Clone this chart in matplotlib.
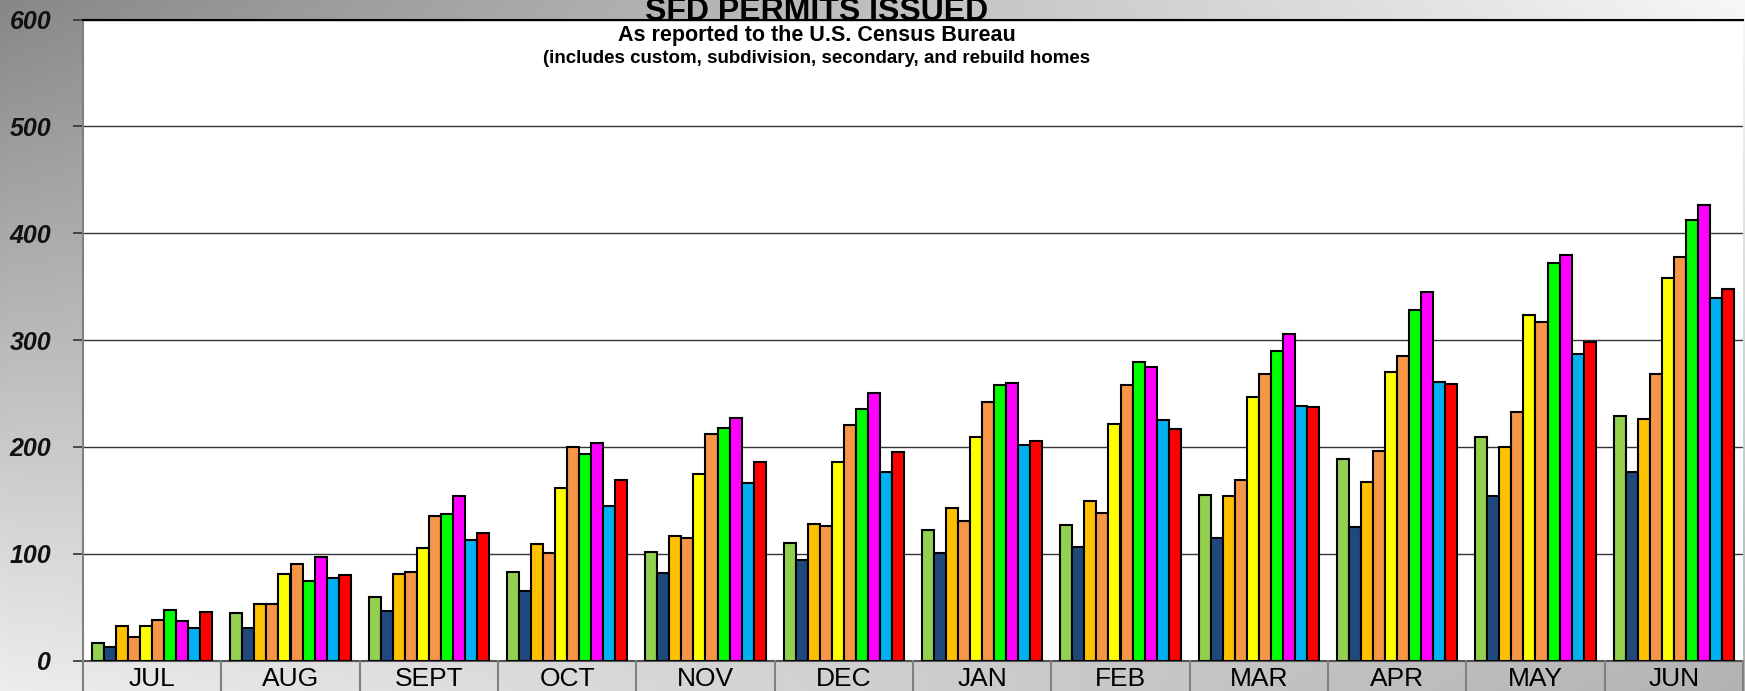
import numpy as np
import matplotlib
matplotlib.use('Agg')
from matplotlib import pyplot as plt
from matplotlib import transforms
from matplotlib.lines import Line2D

months = ['JUL', 'AUG', 'SEPT', 'OCT', 'NOV', 'DEC',
          'JAN', 'FEB', 'MAR', 'APR', 'MAY', 'JUN']

# one list per bar position inside each month group
s1 = [16, 44, 59, 83, 102, 110, 122, 127, 155, 189, 209, 229]
s2 = [13, 30, 46, 65, 82, 94, 101, 106, 115, 125, 154, 176]
s3 = [32, 53, 81, 109, 117, 128, 143, 149, 154, 167, 200, 226]
s4 = [22, 53, 83, 101, 115, 126, 131, 138, 169, 196, 233, 268]
s5 = [32, 81, 105, 161, 175, 186, 209, 221, 247, 270, 323, 358]
s6 = [38, 90, 135, 200, 212, 220, 242, 258, 268, 285, 317, 378]
s7 = [47, 74, 137, 193, 218, 235, 258, 279, 290, 328, 372, 412]
s8 = [37, 97, 154, 204, 227, 250, 260, 275, 306, 345, 380, 426]
s9 = [30, 77, 113, 145, 166, 176, 202, 225, 238, 261, 287, 339]
s10 = [45, 80, 119, 169, 186, 195, 205, 217, 237, 259, 298, 348]
series = [s1, s2, s3, s4, s5, s6, s7, s8, s9, s10]

colors = ['#92D050', '#1F497D', '#FFC000', '#F79646', '#FFFF00',
          '#F79646', '#00FF00', '#FF00FF', '#00B0F0', '#FF0000']

plt.rcParams['font.family'] = ['Liberation Sans', 'DejaVu Sans']

W, H = 1745, 691
fig = plt.figure(figsize=(W / 100, H / 100), dpi=100)

# gray gradient background (dark top-left, light top-right / bottom-left)
bg = fig.add_axes([0, 0, 1, 1], zorder=-5)
xx, yy = np.meshgrid(np.linspace(0, 1, 300), np.linspace(0, 1, 120))
tl, tr, bl, br = 0.53, 0.97, 0.93, 0.70
g = tl * (1 - xx) * (1 - yy) + tr * xx * (1 - yy) + bl * (1 - xx) * yy + br * xx * yy
bg.imshow(np.dstack([g, g, g]), aspect='auto', extent=[0, 1, 1, 0], interpolation='bilinear')
bg.set_xlim(0, 1)
bg.set_ylim(1, 0)
bg.axis('off')

left, right = 83 / W, 1743 / W
base, top = 660.5, 19.5
ax = fig.add_axes([left, 1 - base / H, right - left, (base - top) / H])
ax.set_facecolor('white')

x = np.arange(len(months))
bw = 0.087
for i, (vals, c) in enumerate(zip(series, colors)):
    ax.bar(x + (i - 4.5) * bw, vals, width=bw, color=c,
           edgecolor='black', linewidth=1.5, zorder=3)

ax.set_xlim(-0.5, 11.5)
ax.set_ylim(0, 600)
ax.set_yticks(range(0, 601, 100))
ax.set_yticklabels([str(v) for v in range(0, 601, 100)],
                   fontsize=18, fontweight='bold', fontstyle='italic', color='#111111')
ax.tick_params(axis='y', direction='out', length=7, width=1.2, color='#333333', pad=16)
ax.yaxis.grid(True, color='#333333', linewidth=1.0, zorder=0)
ax.set_axisbelow(True)

ax.set_xticks(x)
ax.set_xticklabels(months, fontsize=19)
ax.tick_params(axis='x', length=0, pad=5)

ax.spines['right'].set_visible(False)
ax.spines['top'].set_color('black')
ax.spines['top'].set_linewidth(1.5)
ax.spines['left'].set_color('#808080')
ax.spines['left'].set_linewidth(1.5)
ax.spines['bottom'].set_color('#555555')
ax.spines['bottom'].set_linewidth(1.5)

# separators between month label boxes
trans = transforms.blended_transform_factory(ax.transData, fig.transFigure)
for b in np.arange(-0.5, 12, 1.0):
    fig.add_artist(Line2D([b, b], [0, 1 - base / H], transform=trans,
                          color='#808080', linewidth=1.5))

fig.text(817 / W, 1 - 20 / H, 'SFD PERMITS ISSUED', ha='center', va='baseline',
         fontsize=23, fontweight='bold', zorder=10)
fig.text(817 / W, 1 - 41 / H, 'As reported to the U.S. Census Bureau', ha='center',
         va='baseline', fontsize=15.5, fontweight='bold', zorder=10)
fig.text(817 / W, 1 - 63 / H, '(includes custom, subdivision, secondary, and rebuild homes',
         ha='center', va='baseline', fontsize=13.5, fontweight='bold', zorder=10)

fig.savefig('out.png', dpi=100)
